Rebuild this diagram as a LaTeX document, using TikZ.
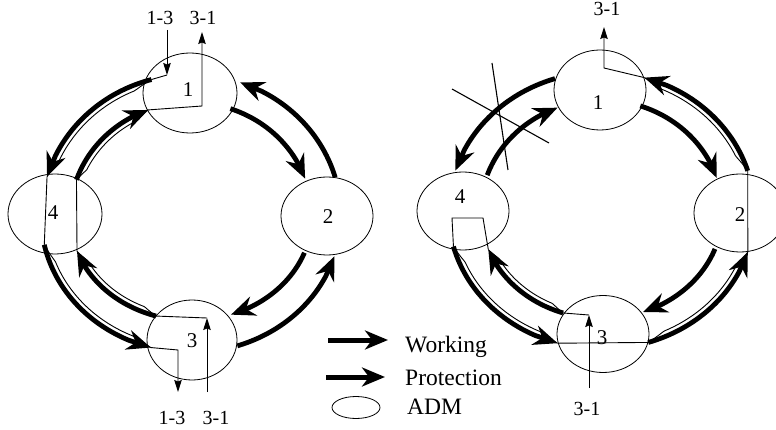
\documentclass[tikz,border=0pt]{standalone}
\usepackage{fontspec}
\setmainfont{Liberation Serif}
\usetikzlibrary{arrows.meta,shapes.geometric}

\tikzset{
  adm/.style={ellipse, draw, line width=0.8pt, inner sep=0pt},
  num/.style={anchor=base, inner sep=0pt, font=\fontsize{21}{21}\selectfont},
  lbl/.style={anchor=base, inner sep=0pt, font=\fontsize{20}{20}\selectfont},
  leg/.style={anchor=base west, inner sep=0pt, font=\fontsize{23.5}{23.5}\selectfont},
  heavy/.style={line width=4.8pt, -{Stealth[length=24pt,width=20pt,inset=8pt]}},
  route/.style={line width=0.9pt},
  tap/.style={line width=0.9pt, -{Stealth[length=12pt,width=7.5pt,inset=1.5pt]}},
  cut/.style={line width=1.1pt},
}

% thick arrowed arc on the ring ellipse (rx, ry) from angle #3 to angle #4
\newcommand\heavyarc[4]{%
  \pgfmathsetmacro\preend{#4-9*(#4-(#3))/abs(#4-(#3))}%
  \draw[heavy] plot[domain=#3:\preend, samples=40, variable=\ang]
    ({\ringx+#1*cos(\ang)},{\ringy+#2*sin(\ang)})
    -- ({\ringx+#1*cos(#4)},{\ringy+#2*sin(#4)});
}
% thin traffic line riding just inside a thick arc
\newcommand\routearc[4]{%
  \draw[route] plot[domain=#3:#4, samples=60, variable=\ang]
    ({\ringx+(#1-5.5*min(1,2.5*sin(180*(\ang-(#3))/((#4)-(#3)))))*cos(\ang)},
     {\ringy+(#2-5.5*min(1,2.5*sin(180*(\ang-(#3))/((#4)-(#3)))))*sin(\ang)});
}
% named point on a ring ellipse
\newcommand\ringpt[4]{\coordinate (#1) at ({\ringx+(#2)*cos(#4)},{\ringy+(#3)*sin(#4)});}

\begin{document}
\begin{tikzpicture}[x=1pt,y=-1pt]
\useasboundingbox (0,0) rectangle (776,430);
\clip (0,0) rectangle (776,430);

% ---------------- left ring: normal operation ----------------
\begin{scope}
\def\ringx{191}\def\ringy{216.5}
\node[adm, minimum width=94pt, minimum height=80pt] (L1) at (190,93) {};
\node[adm, minimum width=94pt, minimum height=80pt] (L4) at (55,214) {};
\node[adm, minimum width=92pt, minimum height=78pt] (L2) at (327,216) {};
\node[adm, minimum width=90pt, minimum height=80pt] (L3) at (192,340) {};
\node[num] (L1n) at (188,97) {1};
\node[num] (L4n) at (53,220) {4};
\node[num] (L2n) at (328,224) {2};
\node[num] (L3n) at (192,347) {3};

\heavyarc{150}{142}{254.7}{196.3}
\heavyarc{121}{114}{198.8}{249.2}
\heavyarc{150}{142}{-16}{-70.9}
\heavyarc{121}{114}{-71}{-19.4}
\heavyarc{121}{104}{20.4}{70.7}
\heavyarc{150}{136}{72}{17}
\heavyarc{150}{136}{168}{105.5}
\heavyarc{121}{104}{106.8}{160.4}

% 1-3 traffic
\coordinate (la) at (167,30);
\coordinate (lb) at (167,75);
\draw[tap] (la) -- (lb);
\ringpt{lc}{150}{142}{254.7}
\draw[route] (lb) -- (lc);
\routearc{150}{142}{254.7}{196.3}
\ringpt{ld}{150}{142}{196.3}
\ringpt{le}{150}{136}{168}
\draw[route] (ld) -- (le);
\routearc{150}{136}{168}{105.5}
\ringpt{lf}{150}{136}{105.5}
\coordinate (lg) at (178,350);
\coordinate (lh) at (178,392);
\draw[tap] (lf) -- (lg) -- (lh);

% 3-1 traffic
\coordinate (li) at (207,392);
\coordinate (lj) at (207,318);
\draw[tap] (li) -- (lj);
\ringpt{lk}{121}{104}{106.8}
\draw[route] (lj) -- (lk);
\routearc{121}{104}{106.8}{160.4}
\ringpt{ll}{121}{104}{160.4}
\ringpt{lm}{121}{114}{198.8}
\draw[route] (ll) -- (lm);
\routearc{121}{114}{198.8}{249.2}
\ringpt{ln}{121}{114}{249.2}
\coordinate (lo) at (202,106);
\coordinate (lp) at (202,32);
\draw[tap] (ln) -- (lo) -- (lp);

\node[lbl] (lt1) at (160,24.5) {1-3};
\node[lbl] (lt2) at (203,24.5) {3-1};
\node[lbl] (lb1) at (172,424.5) {1-3};
\node[lbl] (lb2) at (216,424.5) {3-1};
\end{scope}

% ---------------- right ring: span 1-4 cut ----------------
\begin{scope}
\def\ringx{601.5}\def\ringy{212}
\node[adm, minimum width=92pt, minimum height=80pt] (R1) at (600,90) {};
\node[adm, minimum width=92pt, minimum height=78pt] (R4) at (463,211) {};
\node[adm, minimum width=92pt, minimum height=78pt] (R2) at (740,213) {};
\node[adm, minimum width=92pt, minimum height=77pt] (R3) at (603,334) {};
\node[num] (R1n) at (598,110) {1};
\node[num] (R4n) at (460,204) {4};
\node[num] (R2n) at (740,222) {2};
\node[num] (R3n) at (602,344) {3};

\heavyarc{153}{140}{252.3}{197.2}
\heavyarc{121}{112}{199.2}{248.7}
\heavyarc{153}{140}{-17.1}{-73.7}
\heavyarc{121}{112}{-71.3}{-17.7}
\heavyarc{121}{106.5}{20.3}{69.9}
\heavyarc{153}{137}{72.2}{17}
\heavyarc{153}{137}{165.4}{106.7}
\heavyarc{121}{106.5}{108.5}{159.3}

% 3-1 traffic looped back at node 4
\coordinate (ra) at (589,388);
\coordinate (rb) at (589,315);
\draw[tap] (ra) -- (rb);
\ringpt{rc}{121}{106.5}{108.5}
\draw[route] (rb) -- (rc);
\routearc{121}{106.5}{108.5}{159.3}
\ringpt{rd}{121}{106.5}{159.3}
\coordinate (re) at (483,218);
\coordinate (rf) at (452,218);
\ringpt{rg}{153}{137}{165.4}
\draw[route] (rd) -- (re) -- (rf) -- (rg);
\routearc{153}{137}{165.4}{106.7}
\ringpt{rh}{153}{137}{106.7}
\ringpt{ri}{153}{137}{72.2}
\draw[route] (rh) -- (ri);
\routearc{153}{137}{72.2}{17}
\ringpt{rj}{153}{137}{17}
\ringpt{rk}{153}{140}{-17.1}
\draw[route] (rj) -- (rk);
\routearc{153}{140}{-17.1}{-73.7}
\ringpt{rl}{153}{140}{-73.7}
\coordinate (rm) at (604,68);
\coordinate (rn) at (604,27);
\draw[tap] (rl) -- (rm) -- (rn);

% cut mark on span 1-4
\coordinate (xa) at (492,63);
\coordinate (xb) at (508,170);
\coordinate (xc) at (452,89);
\coordinate (xd) at (549,143);
\draw[cut] (xa) -- (xb);
\draw[cut] (xc) -- (xd);

\node[lbl] (rt1) at (607,16) {3-1};
\node[lbl] (rb1) at (587,415) {3-1};
\end{scope}

% ---------------- legend ----------------
\coordinate (wa) at (328,340);
\coordinate (wb) at (388,340);
\coordinate (pa) at (326,377);
\coordinate (pb) at (385,377);
\draw[line width=5pt, -{Stealth[length=23pt,width=19pt,inset=7pt]}] (wa) -- (wb);
\draw[line width=5pt, -{Stealth[length=23pt,width=19pt,inset=7pt]}] (pa) -- (pb);
\node[adm, minimum width=48pt, minimum height=22pt] (admkey) at (356,407.5) {};
\node[leg] (wtxt) at (405,352) {Working};
\node[leg] (ptxt) at (405,385.5) {Protection};
\node[leg] (atxt) at (407,414.5) {ADM};
\end{tikzpicture}
\end{document}
